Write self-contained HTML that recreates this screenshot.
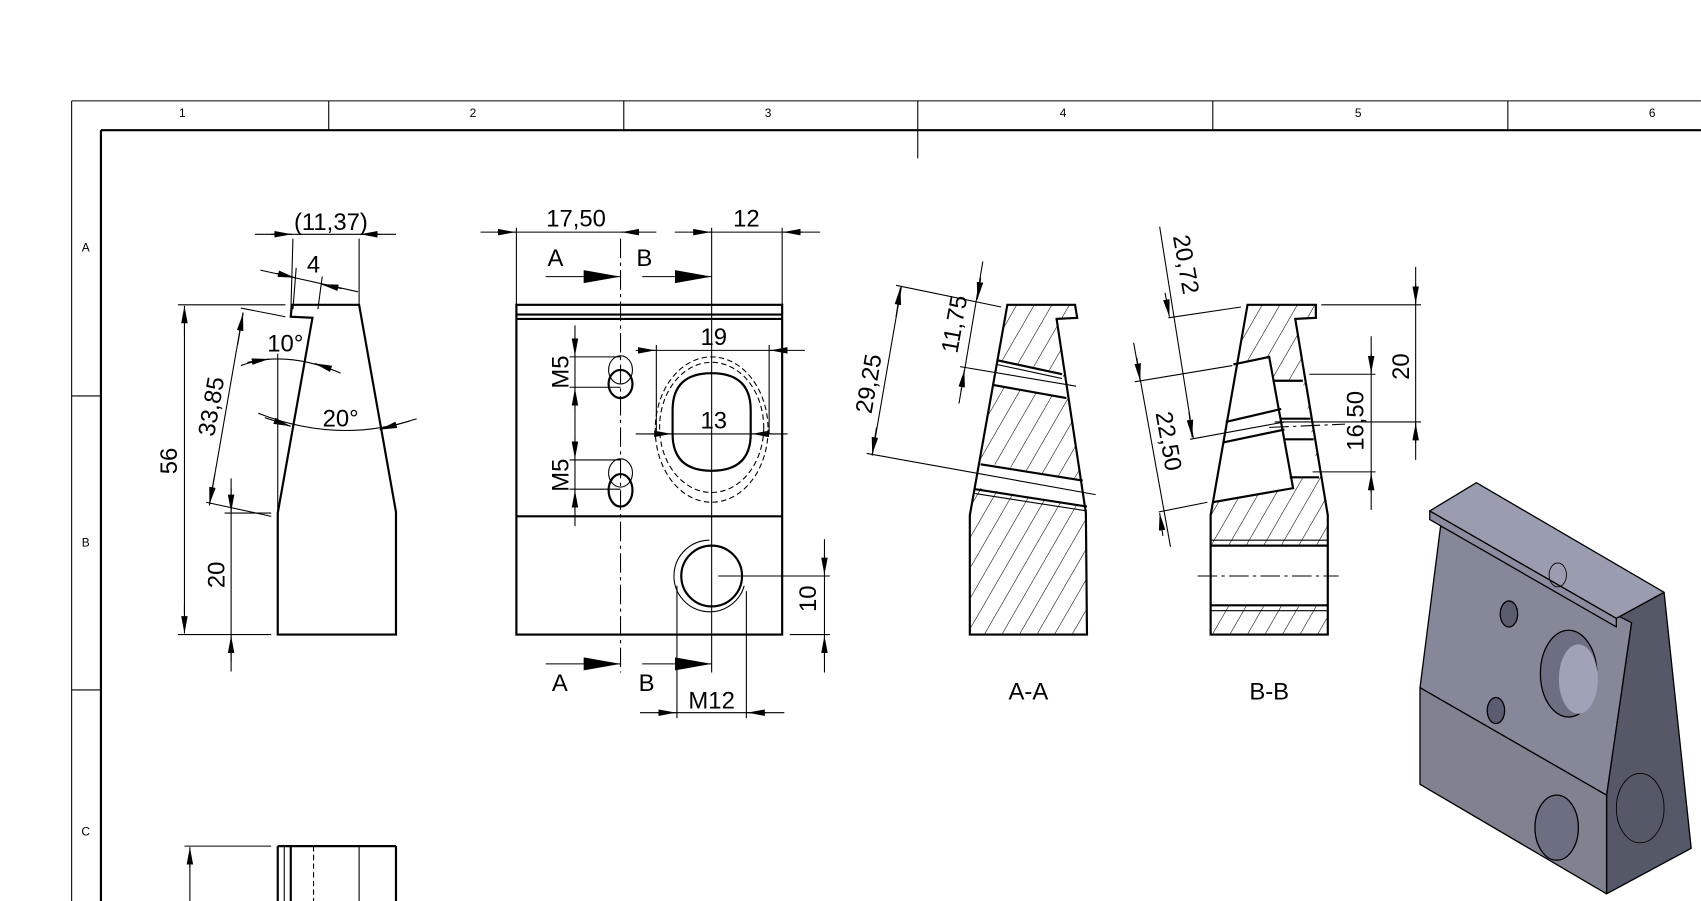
<!DOCTYPE html>
<html><head><meta charset="utf-8"><style>
html,body{margin:0;padding:0;background:#fff;}
svg{display:block;}
text{font-family:"Liberation Sans",sans-serif;fill:#000;}
.t{stroke:#000;stroke-width:1;fill:none;}
.k{stroke:#000;stroke-width:2;fill:none;}
.d{stroke:#000;stroke-width:1;fill:none;stroke-dasharray:18 4 3 4;}
.h{stroke:#000;stroke-width:1;fill:none;stroke-dasharray:5 3;}
.a{stroke:#000;stroke-width:1;fill:none;marker-end:url(#ar);}
.big{font-size:22px;}
.sm{font-size:11px;}
</style></head><body>
<svg width="1701" height="901" viewBox="0 0 1568 830.6" xmlns="http://www.w3.org/2000/svg">
<defs>
<marker id="ar" markerUnits="userSpaceOnUse" markerWidth="18" markerHeight="8" refX="16" refY="3" orient="auto"><path d="M0,0 L16,3 L0,6 z" fill="#000"/></marker>
<marker id="sa" markerUnits="userSpaceOnUse" markerWidth="36" markerHeight="14" refX="34" refY="6" orient="auto"><path d="M0,0 L34,6 L0,12 z" fill="#000"/></marker>
<pattern id="hat" width="14" height="14" patternUnits="userSpaceOnUse" patternTransform="rotate(30)"><line x1="0" y1="0" x2="0" y2="14" stroke="#000" stroke-width="1"/></pattern>
</defs>

<line class="t" x1="66" y1="93" x2="1568" y2="93"/>
<line class="t" x1="66" y1="93" x2="66" y2="831"/>
<line x1="93" y1="120" x2="1568" y2="120" stroke="#000" stroke-width="2"/>
<line x1="93" y1="120" x2="93" y2="831" stroke="#000" stroke-width="2"/>
<g class="t"><line x1="303" y1="93" x2="303" y2="120"/><line x1="575" y1="93" x2="575" y2="120"/><line x1="846" y1="93" x2="846" y2="146"/><line x1="1118" y1="93" x2="1118" y2="120"/><line x1="1390" y1="93" x2="1390" y2="120"/>
<line x1="66" y1="365" x2="93" y2="365"/><line x1="66" y1="636" x2="93" y2="636"/></g>
<g class="sm" text-anchor="middle"><text x="168" y="108">1</text><text x="436" y="108">2</text><text x="708" y="108">3</text><text x="980" y="108">4</text><text x="1252" y="108">5</text><text x="1523" y="108">6</text>
<text x="79" y="232">A</text><text x="79" y="504">B</text><text x="79" y="770">C</text></g>

<path class="k" d="M269,281 L331,281 L365,472 L365,585 L256,585 L256,473 L288,293 L268,292 Z"/>
<line class="t" x1="256" y1="326" x2="256" y2="473"/>
<line class="t" x1="164" y1="281" x2="263" y2="281"/><line class="t" x1="164" y1="585" x2="250" y2="585"/>
<line class="t" x1="170" y1="300" x2="170" y2="566"/>
<line class="a" x1="170" y1="310" x2="170" y2="282"/><line class="a" x1="170" y1="556" x2="170" y2="584"/>
<text class="big" transform="translate(163,425) rotate(-90)" text-anchor="middle">56</text>
<line class="t" x1="207" y1="473" x2="250" y2="473"/>
<line class="t" x1="213" y1="441" x2="213" y2="619"/>
<line class="a" x1="213" y1="450" x2="213" y2="472"/><line class="a" x1="213" y1="610" x2="213" y2="586"/>
<text class="big" transform="translate(207,530) rotate(-90)" text-anchor="middle">20</text>
<line class="t" x1="222" y1="284" x2="263" y2="292"/><line class="t" x1="190" y1="463" x2="250" y2="476"/>
<line class="t" x1="224" y1="288" x2="193" y2="466"/>
<line class="a" x1="219" y1="318" x2="224" y2="289"/><line class="a" x1="198" y1="437" x2="193" y2="465"/>
<text class="big" transform="translate(202,376) rotate(-80)" text-anchor="middle">33,85</text>
<path class="t" d="M222,337 Q262,322 314,344"/>
<line class="a" x1="228" y1="334" x2="248" y2="331"/><line class="a" x1="305" y1="340" x2="290" y2="335"/>
<text class="big" x="263" y="324" text-anchor="middle">10°</text>
<path class="t" d="M238,381 Q312,410 384,386"/>
<line class="a" x1="244" y1="385" x2="268" y2="393"/><line class="a" x1="378" y1="388" x2="350" y2="396"/>
<text class="big" x="314" y="393" text-anchor="middle">20°</text>
<line class="t" x1="235" y1="216" x2="365" y2="216"/>
<line class="a" x1="250" y1="216" x2="269" y2="216"/><line class="a" x1="350" y1="216" x2="332" y2="216"/>
<line class="t" x1="270" y1="220" x2="268" y2="290"/><line class="t" x1="331" y1="220" x2="331" y2="281"/>
<text class="big" x="305" y="212" text-anchor="middle">(11,37)</text>
<line class="t" x1="240" y1="249" x2="330" y2="269"/>
<line class="a" x1="255" y1="252" x2="272" y2="256"/><line class="a" x1="315" y1="266" x2="296" y2="262"/>
<line class="t" x1="273" y1="247" x2="270" y2="285"/><line class="t" x1="297" y1="255" x2="293" y2="285"/>
<text class="big" x="289" y="251" text-anchor="middle">4</text>

<rect class="k" x="476" y="281" width="245" height="304"/>
<line class="k" x1="476" y1="290" x2="721" y2="290"/><line class="k" x1="476" y1="294" x2="721" y2="294"/>
<line class="k" x1="476" y1="476" x2="721" y2="476"/>
<line class="d" x1="572" y1="220" x2="572" y2="620"/>
<line class="t" x1="656" y1="210" x2="656" y2="620"/>
<line class="t" x1="503" y1="255" x2="537" y2="255"/><line x1="537" y1="255" x2="572" y2="255" stroke="#000" marker-end="url(#sa)"/>
<line class="t" x1="592" y1="255" x2="622" y2="255"/><line x1="622" y1="255" x2="656" y2="255" stroke="#000" marker-end="url(#sa)"/>
<line class="t" x1="503" y1="612" x2="537" y2="612"/><line x1="537" y1="612" x2="572" y2="612" stroke="#000" marker-end="url(#sa)"/>
<line class="t" x1="592" y1="612" x2="622" y2="612"/><line x1="622" y1="612" x2="656" y2="612" stroke="#000" marker-end="url(#sa)"/>
<g class="big" text-anchor="middle"><text x="512" y="245">A</text><text x="594" y="245">B</text><text x="516" y="637">A</text><text x="596" y="637">B</text></g>
<line class="t" x1="443" y1="214" x2="605" y2="214"/>
<line class="a" x1="458" y1="214" x2="475" y2="214"/><line class="a" x1="590" y1="214" x2="573" y2="214"/>
<line class="t" x1="476" y1="210" x2="476" y2="281"/>
<text class="big" x="531" y="209" text-anchor="middle">17,50</text>
<line class="t" x1="622" y1="214" x2="756" y2="214"/>
<line class="a" x1="638" y1="214" x2="655" y2="214"/><line class="a" x1="740" y1="214" x2="722" y2="214"/>
<line class="t" x1="721" y1="210" x2="721" y2="281"/>
<text class="big" x="688" y="209" text-anchor="middle">12</text>
<ellipse class="t" cx="572" cy="341" rx="11" ry="13"/><ellipse class="k" cx="572" cy="354" rx="11" ry="13"/>
<ellipse class="t" cx="572" cy="436" rx="11" ry="13"/><ellipse class="k" cx="572" cy="452" rx="11" ry="15"/>
<line class="t" x1="530" y1="300" x2="530" y2="485"/>
<line class="t" x1="525" y1="329" x2="572" y2="329"/><line class="t" x1="525" y1="357" x2="572" y2="357"/>
<line class="t" x1="525" y1="424" x2="572" y2="424"/><line class="t" x1="525" y1="451" x2="572" y2="451"/>
<line class="a" x1="530" y1="310" x2="530" y2="328"/><line class="a" x1="530" y1="378" x2="530" y2="358"/>
<line class="a" x1="530" y1="404" x2="530" y2="423"/><line class="a" x1="530" y1="472" x2="530" y2="452"/>
<text class="big" transform="translate(524,343) rotate(-90)" text-anchor="middle">M5</text>
<text class="big" transform="translate(524,438) rotate(-90)" text-anchor="middle">M5</text>
<ellipse class="h" cx="656" cy="396" rx="52" ry="67"/>
<ellipse class="h" cx="656" cy="394" rx="48" ry="60"/>
<path class="k" d="M620,378 Q620,344 656,344 Q692,344 692,378 L692,400 Q692,434 656,434 Q620,434 620,400 Z"/>
<line class="t" x1="586" y1="323" x2="742" y2="323"/>
<line class="a" x1="590" y1="323" x2="604" y2="323"/><line class="a" x1="726" y1="323" x2="710" y2="323"/>
<line class="t" x1="605" y1="318" x2="605" y2="400"/><line class="t" x1="709" y1="318" x2="709" y2="400"/>
<text class="big" x="658" y="318" text-anchor="middle">19</text>
<line class="t" x1="586" y1="400" x2="726" y2="400"/>
<line class="a" x1="600" y1="400" x2="619" y2="400"/><line class="a" x1="712" y1="400" x2="693" y2="400"/>
<text class="big" x="658" y="395" text-anchor="middle">13</text>
<circle class="k" cx="656" cy="531" r="28"/>
<path class="t" d="M654,498 A33,33 0 1,0 686,540"/>
<line class="t" x1="624" y1="540" x2="624" y2="662"/><line class="t" x1="688" y1="545" x2="688" y2="662"/>
<line class="t" x1="590" y1="657" x2="723" y2="657"/>
<line class="a" x1="606" y1="657" x2="623" y2="657"/><line class="a" x1="706" y1="657" x2="689" y2="657"/>
<text class="big" x="656" y="653" text-anchor="middle">M12</text>
<line class="t" x1="662" y1="531" x2="765" y2="531"/><line class="t" x1="728" y1="585" x2="765" y2="585"/>
<line class="t" x1="760" y1="497" x2="760" y2="620"/>
<line class="a" x1="760" y1="510" x2="760" y2="530"/><line class="a" x1="760" y1="606" x2="760" y2="586"/>
<text class="big" transform="translate(752,552) rotate(-90)" text-anchor="middle">10</text>

<polygon points="928.6,281 991,281 993,293 974,294 1001,473 1002,585 894,585 894,475" fill="url(#hat)"/>
<polygon points="919,332 979,343 983,367 916,355" fill="#fff"/>
<polygon points="904,426 998,443 1002,467 899,449" fill="#fff"/>
<polygon class="k" points="928.6,281 991,281 993,293 974,294 1001,473 1002,585 894,585 894,475"/>
<line class="k" x1="919" y1="332" x2="979" y2="345"/><line class="t" x1="919" y1="336" x2="979" y2="349"/>
<line class="k" x1="916" y1="355" x2="983" y2="367"/>
<line class="k" x1="904" y1="428" x2="998" y2="443"/>
<line class="k" x1="899" y1="451" x2="1002" y2="467"/><line class="t" x1="899" y1="455" x2="1002" y2="471"/>
<line class="t" x1="826" y1="263" x2="923" y2="283"/><line class="t" x1="799" y1="418" x2="1010" y2="456"/>
<line class="t" x1="831" y1="264" x2="804" y2="420"/>
<line class="a" x1="826" y1="292" x2="830" y2="265"/><line class="a" x1="808" y1="394" x2="804" y2="419"/>
<text class="big" transform="translate(808,355) rotate(-80)" text-anchor="middle">29,25</text>
<line class="t" x1="885" y1="338" x2="992" y2="356"/>
<line class="t" x1="906" y1="241" x2="884" y2="372"/>
<line class="a" x1="904" y1="256" x2="901" y2="276"/><line class="a" x1="886" y1="360" x2="889" y2="341"/>
<text class="big" transform="translate(887,300) rotate(-80)" text-anchor="middle">11,75</text>
<text class="big" x="948" y="645" text-anchor="middle">A-A</text>

<polygon points="1150,281 1213,281 1213,293 1194,294 1224,475 1224,585 1116,585 1116,475" fill="url(#hat)"/>
<polygon points="1140,335 1170,329 1175,351 1201,351 1216,440 1189,440 1192,450 1118,463" fill="#fff"/>
<rect x="1116" y="503" width="108" height="55" fill="#fff"/>
<polygon class="k" points="1150,281 1213,281 1213,293 1194,294 1224,475 1224,585 1116,585 1116,475"/>
<polyline class="k" points="1137,336 1170,329 1192,450 1118,463"/>
<g class="k"><line x1="1174" y1="351" x2="1201" y2="351"/><line x1="1181" y1="386" x2="1208" y2="386"/><line x1="1184" y1="405" x2="1211" y2="405"/><line x1="1189" y1="440" x2="1216" y2="440"/>
<line x1="1130" y1="389" x2="1181" y2="377"/><line x1="1127" y1="408" x2="1184" y2="396"/>
<line x1="1116" y1="503" x2="1224" y2="503"/><line x1="1116" y1="558" x2="1224" y2="558"/></g>
<g class="t"><line x1="1116" y1="498" x2="1224" y2="498"/><line x1="1116" y1="563" x2="1224" y2="563"/></g>
<line class="d" x1="1104" y1="531" x2="1234" y2="531"/>
<line class="d" x1="1170" y1="394" x2="1240" y2="391"/>
<line class="t" x1="1077" y1="293" x2="1144" y2="283"/><line class="t" x1="1097" y1="405" x2="1184" y2="389"/>
<line class="t" x1="1069" y1="209" x2="1100" y2="404"/>
<line class="a" x1="1074" y1="270" x2="1078" y2="292"/><line class="a" x1="1096" y1="380" x2="1099" y2="403"/>
<text class="big" transform="translate(1086,245) rotate(80)" text-anchor="middle">20,72</text>
<line class="t" x1="1046" y1="352" x2="1136" y2="337"/><line class="t" x1="1068" y1="472" x2="1113" y2="463"/>
<line class="t" x1="1045" y1="316" x2="1079" y2="504"/>
<line class="a" x1="1048" y1="330" x2="1051" y2="351"/><line class="a" x1="1072" y1="494" x2="1069" y2="473"/>
<text class="big" transform="translate(1070,408) rotate(80)" text-anchor="middle">22,50</text>
<line class="t" x1="1218" y1="281" x2="1310" y2="281"/><line class="t" x1="1175" y1="389" x2="1310" y2="389"/>
<line class="t" x1="1305" y1="246" x2="1305" y2="424"/>
<line class="a" x1="1305" y1="262" x2="1305" y2="280"/><line class="a" x1="1305" y1="408" x2="1305" y2="390"/>
<text class="big" transform="translate(1299,338) rotate(-90)" text-anchor="middle">20</text>
<line class="t" x1="1207" y1="345" x2="1268" y2="345"/><line class="t" x1="1210" y1="435" x2="1268" y2="435"/>
<line class="t" x1="1264" y1="310" x2="1264" y2="470"/>
<line class="a" x1="1264" y1="326" x2="1264" y2="344"/><line class="a" x1="1264" y1="454" x2="1264" y2="436"/>
<text class="big" transform="translate(1257,388) rotate(-90)" text-anchor="middle">16,50</text>
<text class="big" x="1170" y="645" text-anchor="middle">B-B</text>

<line class="k" x1="256" y1="780" x2="365" y2="780"/>
<g class="k"><line x1="256" y1="780" x2="256" y2="831"/><line x1="268" y1="780" x2="268" y2="831"/><line x1="365" y1="780" x2="365" y2="831"/></g>
<line class="t" x1="262" y1="780" x2="262" y2="831"/><line class="t" x1="331" y1="780" x2="331" y2="831"/>
<line class="h" x1="289" y1="780" x2="289" y2="831"/>
<line class="t" x1="170" y1="780" x2="250" y2="780"/>
<line class="t" x1="175" y1="790" x2="175" y2="831"/>
<line class="a" x1="175" y1="800" x2="175" y2="781"/>

<g stroke="#000" stroke-width="1.2" stroke-linejoin="round">
<polygon points="1534,546 1559,782 1481,824 1481,733 1504,574 1490,578 1490,570" fill="#555866"/>
<polygon points="1328,485 1504,574 1481,733 1309,634" fill="#858899"/>
<polygon points="1309,634 1481,733 1481,824 1309,723" fill="#80838f"/>
<polygon points="1318,471 1490,570 1490,578 1318,479" fill="#8a8da0"/>
<polygon points="1361,445 1534,546 1490,570 1318,471" fill="#9a9db0"/>
<ellipse cx="1391" cy="566" rx="8" ry="12" fill="#5a5d70"/>
<ellipse cx="1379" cy="655" rx="8" ry="12" fill="#5a5d70"/>
<ellipse cx="1446" cy="621" rx="26" ry="40" fill="#6c6f82"/>
<ellipse cx="1455" cy="626" rx="18" ry="32" fill="#a0a3b8" stroke="none"/>
<ellipse cx="1435" cy="763" rx="20" ry="30" fill="#6c6f82"/>
<ellipse cx="1512" cy="745" rx="22" ry="32" fill="none" stroke-width="0.8"/>
<ellipse cx="1436" cy="530" rx="8" ry="11" fill="none" stroke-width="0.8"/>
</g>
</svg>
</body></html>
